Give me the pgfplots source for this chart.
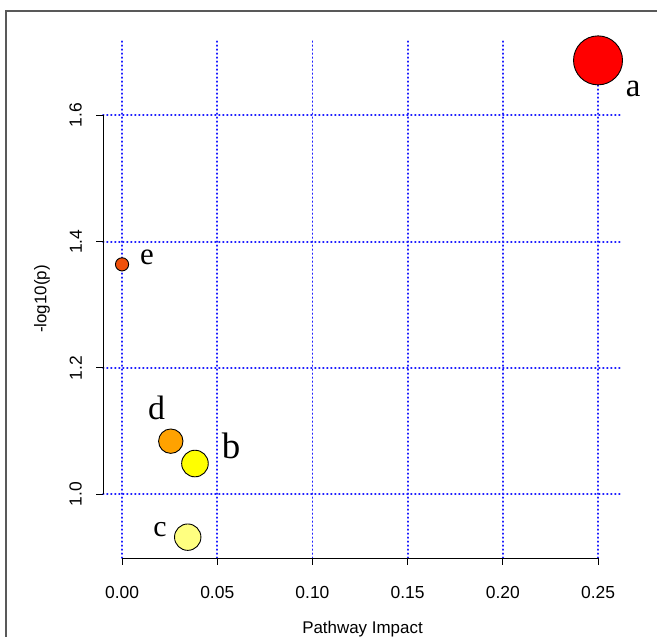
\documentclass[border=0pt]{standalone}
\usepackage{fontspec}
\setmainfont{Liberation Sans}
\newfontfamily\serif{Liberation Serif}
\usepackage{pgfplots}
\pgfplotsset{compat=1.18}
\definecolor{ca}{HTML}{FF0000}
\definecolor{cb}{HTML}{FFFF00}
\definecolor{cc}{HTML}{FFFF80}
\definecolor{cd}{HTML}{FFA200}
\definecolor{ce}{HTML}{F0500A}
\definecolor{gridblue}{HTML}{1E1EFF}
\begin{document}
\begin{tikzpicture}[x=1bp,y=1bp]
\useasboundingbox (0,0) rectangle (657,637);
\draw[color=black!65, line width=1.3bp] (6,-5) -- (6,626) -- (670,626);
\begin{axis}[
  at={(103bp,79bp)}, anchor=south west,
  scale only axis, width=519bp, height=518bp,
  xmin=-0.01, xmax=0.2626, ymin=0.899, ymax=1.7193,
  axis line style={draw=none},
  clip=false,
  xtick={0,0.05,0.1,0.15,0.2,0.25},
  ytick={1.0,1.2,1.4,1.6},
  scaled ticks=false,
  tick align=outside,
  major tick length=7bp,
  tick style={black, line width=0.9bp},
  xtick pos=left, ytick pos=left,
  grid=major,
  grid style={gridblue, line width=1.8bp, dash pattern=on 0.6bp off 3.4bp, line cap=round},
  tick label style={font=\fontsize{17.5}{20}\selectfont, inner sep=0pt},
  /pgf/number format/assume math mode=true,
  xticklabel shift=21bp,
  yticklabel shift=14bp,
  xticklabel style={/pgf/number format/.cd, fixed, fixed zerofill, precision=2},
  yticklabel style={/pgf/number format/.cd, fixed, fixed zerofill, precision=1, /tikz/.cd, rotate=90, anchor=south},
  xlabel={Pathway Impact},
  ylabel={-log10(p)},
  label style={font=\fontsize{17}{20}\selectfont},
  xlabel style={at={(axis description cs:0.5,-0.138)}, anchor=center},
  ylabel style={at={(axis description cs:-0.1175,0.5)}, anchor=center},
]
\draw[black, line width=0.9bp] (axis cs:0,0.899) -- (axis cs:0.25,0.899);
\draw[black, line width=0.9bp] (axis cs:-0.01,1.0) -- (axis cs:-0.01,1.6);
\addplot[only marks, mark=*, mark size=24.5bp, mark options={fill=ca, draw=black, line width=0.9bp}] coordinates {(0.25,1.687)};
\addplot[only marks, mark=*, mark size=13.3bp, mark options={fill=cb, draw=black, line width=0.9bp}] coordinates {(0.0383,1.0486)};
\addplot[only marks, mark=*, mark size=13.2bp, mark options={fill=cc, draw=black, line width=0.9bp}] coordinates {(0.0345,0.932)};
\addplot[only marks, mark=*, mark size=12.2bp, mark options={fill=cd, draw=black, line width=0.9bp}] coordinates {(0.0256,1.084)};
\addplot[only marks, mark=*, mark size=6.6bp, mark options={fill=ce, draw=black, line width=0.9bp}] coordinates {(0,1.364)};
\node[font=\serif\fontsize{33}{33}\selectfont, anchor=base, inner sep=0pt] at (axis cs:0.2684,1.630) {a};
\node[font=\serif\fontsize{37}{37}\selectfont, anchor=base, inner sep=0pt] at (axis cs:0.05725,1.057) {b};
\node[font=\serif\fontsize{30}{30}\selectfont, anchor=base, inner sep=0pt] at (axis cs:0.01996,0.9335) {c};
\node[font=\serif\fontsize{34}{34}\selectfont, anchor=base, inner sep=0pt] at (axis cs:0.01812,1.1188) {d};
\node[font=\serif\fontsize{31}{31}\selectfont, anchor=base, inner sep=0pt] at (axis cs:0.01313,1.3642) {e};
\end{axis}
\end{tikzpicture}
\end{document}
